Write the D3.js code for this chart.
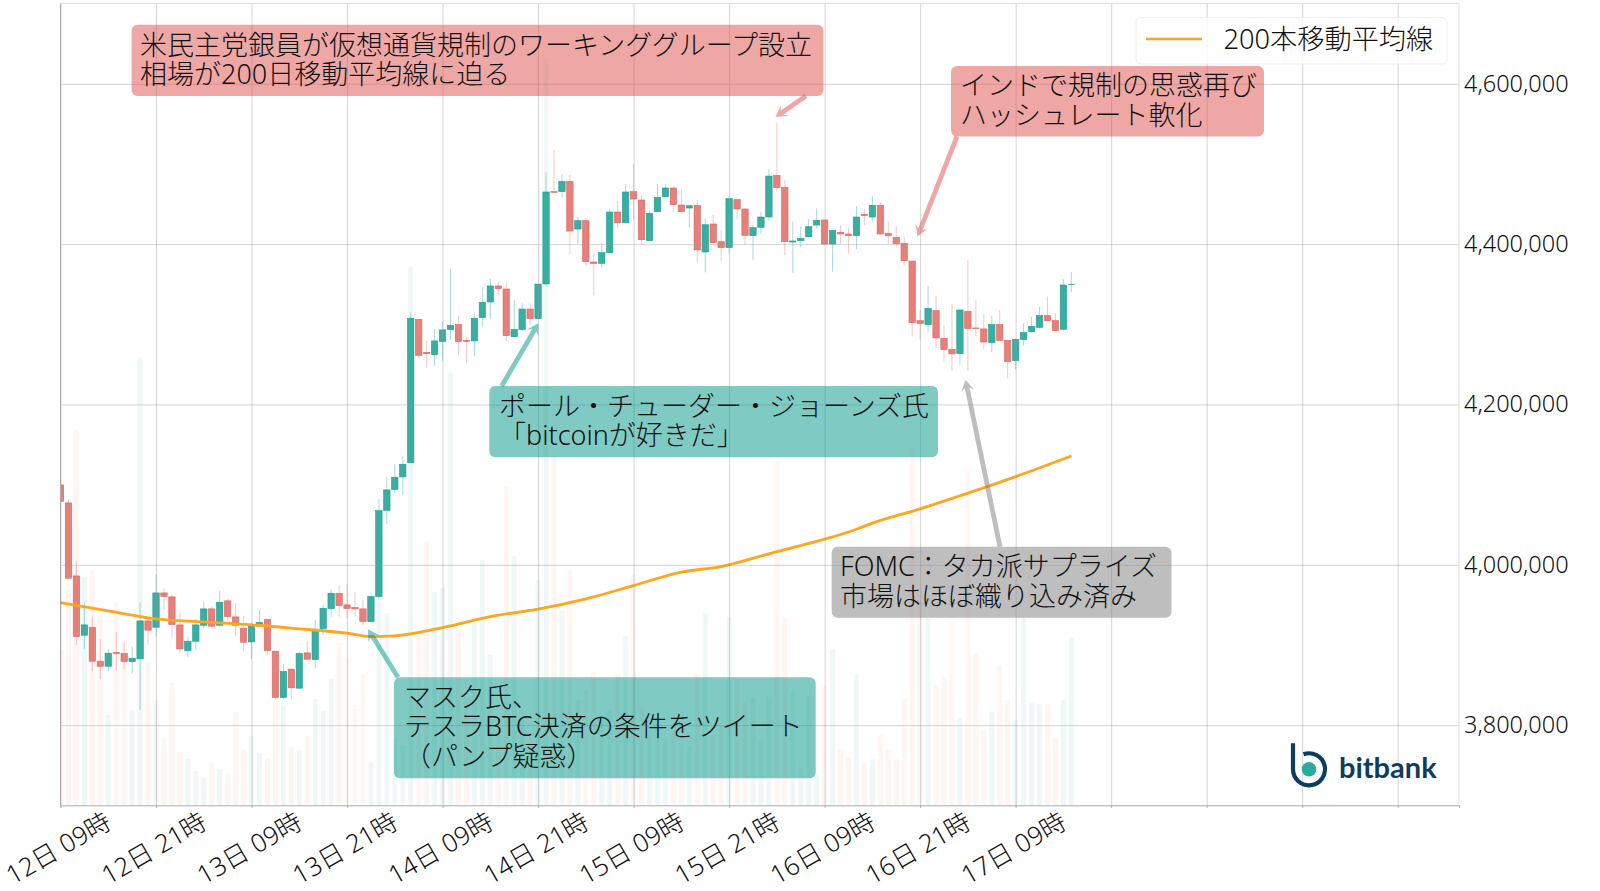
<!DOCTYPE html>
<html>
<head>
<meta charset="utf-8">
<script src="https://d3js.org/d3.v7.min.js"></script>
<style>
  html, body { margin: 0; padding: 0; background: #fff; }
  text { font-family: "Noto Sans", "Noto Sans CJK JP", sans-serif; fill: #111; }
</style>
</head>
<body>
<div id="my_dataviz"></div>
<script>

// hourly candles, yen, index 0 = 12日 09時
var opens = [
  4099600, 4077200, 3986100, 3912200, 3922100, 3879700, 3873500, 3890500, 3889300, 3879300, 3882700, 3930000,
  3922100, 3964900, 3960000, 3925000, 3893000, 3904700, 3924600, 3945000, 3924600, 3955000, 3935000, 3920900,
  3903800, 3923800, 3931700, 3892200, 3834400, 3869800, 3846100, 3890100, 3881800, 3920500, 3945400, 3964500,
  3950000, 3946700, 3945000, 3929200, 3960400, 4068000, 4093800, 4109600, 4127400, 4306200, 4265000, 4262200,
  4278400, 4293300, 4299600, 4280000, 4279200, 4308300, 4327800, 4347800, 4344000, 4284600, 4293300, 4319000,
  4307000, 4350300, 4465400, 4465400, 4478300, 4418800, 4429200, 4377700, 4376000, 4389300, 4440000, 4426700,
  4465400, 4455000, 4404300, 4440400, 4459100, 4470000, 4448800, 4445000, 4448300, 4390200, 4425100, 4403000,
  4395600, 4455400, 4443800, 4410500, 4420900, 4433800, 4485700, 4470400, 4402600, 4404300, 4409300, 4423800,
  4430100, 4400100, 4414700, 4412600, 4410500, 4437100, 4433800, 4448300, 4413400, 4408400, 4401000, 4378900,
  4304500, 4299600, 4317000, 4282500, 4268800, 4263400, 4316200, 4295400, 4294200, 4277100, 4299600, 4280000,
  4254700, 4280900, 4290800, 4296200, 4310800, 4304500, 4293800, 4349500
];
var highs = [
  4103000, 4081700, 4003200, 3953300, 3935400, 3907200, 3894700, 3915900, 3903400, 3898000, 3952900, 3935400,
  3988600, 3970800, 3962400, 3940400, 3910500, 3932100, 3953300, 3947900, 3967800, 3958300, 3952100, 3936300,
  3928000, 3943700, 3932500, 3892500, 3876000, 3870000, 3891800, 3905100, 3931300, 3950000, 3969500, 3974500,
  3976200, 3965800, 3956200, 3964500, 4082100, 4110000, 4125800, 4135800, 4314500, 4306500, 4279600, 4294200,
  4303300, 4369000, 4310800, 4284600, 4313700, 4346100, 4356900, 4354400, 4351900, 4330300, 4326200, 4326200,
  4350500, 4489500, 4517300, 4487000, 4486200, 4434200, 4433000, 4388500, 4401000, 4443400, 4453800, 4474900,
  4499500, 4461200, 4441700, 4474500, 4474900, 4470800, 4468300, 4448800, 4455000, 4432100, 4436300, 4417600,
  4458300, 4456200, 4444600, 4423800, 4440000, 4493200, 4551400, 4479900, 4428000, 4421700, 4431300, 4444600,
  4430900, 4417600, 4423800, 4419700, 4447500, 4443800, 4460000, 4452900, 4428000, 4422600, 4409300, 4379300,
  4317800, 4347800, 4336100, 4297900, 4325300, 4319100, 4380200, 4329900, 4312900, 4310400, 4317400, 4280000,
  4282500, 4301200, 4309500, 4322000, 4334500, 4313700, 4356100, 4365200
];
var lows = [
  4079000, 3983000, 3900100, 3894700, 3867300, 3857300, 3866900, 3868900, 3870200, 3863900, 3819100, 3900100,
  3910500, 3943700, 3909300, 3889700, 3885100, 3893000, 3920100, 3923000, 3923800, 3930400, 3910500, 3891800,
  3882200, 3923000, 3887600, 3831500, 3832400, 3832400, 3844800, 3881400, 3870600, 3912600, 3934200, 3935400,
  3933400, 3935400, 3925000, 3928000, 3955400, 4051000, 4089200, 4087200, 4126700, 4257600, 4245100, 4248000,
  4254700, 4280400, 4261700, 4252200, 4259700, 4296200, 4306200, 4336500, 4279600, 4283800, 4291700, 4298800,
  4306200, 4346900, 4464000, 4458300, 4387300, 4400100, 4372700, 4336100, 4369800, 4388500, 4419700, 4425900,
  4430900, 4400100, 4403500, 4440000, 4458300, 4439200, 4439200, 4420900, 4377700, 4364800, 4401000, 4379300,
  4388500, 4430900, 4398900, 4380200, 4412600, 4429200, 4465400, 4386400, 4364400, 4396000, 4408000, 4419200,
  4400100, 4365600, 4400100, 4388500, 4393500, 4423800, 4428000, 4411800, 4400100, 4396000, 4372700, 4284600,
  4280400, 4290800, 4269600, 4253400, 4242200, 4249300, 4242200, 4285400, 4268800, 4265500, 4279200, 4232200,
  4243900, 4273400, 4289600, 4295000, 4303700, 4290800, 4292000, 4340300
];
var closes = [
  4079200, 3983200, 3910500, 3925000, 3879700, 3873500, 3889700, 3889300, 3879300, 3883500, 3930000, 3918400,
  3964900, 3960400, 3925500, 3895100, 3904700, 3925000, 3945000, 3923400, 3953300, 3935400, 3924600, 3903400,
  3923800, 3928000, 3893000, 3834400, 3866900, 3846500, 3889300, 3882200, 3919600, 3945800, 3964500, 3949100,
  3945400, 3945000, 3929200, 3960400, 4067600, 4093400, 4109200, 4125400, 4307400, 4261300, 4263400, 4279200,
  4293000, 4298800, 4278400, 4278800, 4307400, 4327400, 4347800, 4344400, 4285800, 4293700, 4319000, 4307000,
  4350200, 4465000, 4464600, 4478300, 4416300, 4429200, 4378100, 4376000, 4389300, 4440000, 4426700, 4465000,
  4456200, 4405500, 4438400, 4458300, 4470000, 4449200, 4440400, 4447900, 4392700, 4424200, 4401800, 4395600,
  4456700, 4443800, 4410900, 4420500, 4433800, 4484900, 4470400, 4403000, 4403900, 4407200, 4421700, 4429600,
  4400100, 4416800, 4412600, 4410500, 4433800, 4435500, 4448300, 4412600, 4410500, 4400500, 4379300, 4302000,
  4301200, 4319900, 4282900, 4268400, 4263000, 4317800, 4294600, 4294600, 4277900, 4299600, 4280000, 4253400,
  4281300, 4289600, 4297500, 4310800, 4304500, 4292100, 4349000, 4350000
];
var volumes = [
  155, 215, 375, 228, 234, 189, 90, 202, 163, 95, 447, 142,
  105, 66, 122, 53, 46, 34, 27, 42, 36, 30, 93, 56,
  69, 52, 47, 102, 99, 58, 55, 69, 106, 94, 126, 162,
  146, 100, 131, 43, 203, 192, 66, 60, 538, 169, 263, 213,
  217, 432, 175, 105, 188, 245, 150, 75, 318, 249, 85, 65,
  225, 745, 349, 194, 234, 105, 115, 133, 85, 95, 130, 169,
  230, 98, 75, 85, 65, 80, 70, 60, 131, 192, 70, 80,
  188, 125, 103, 107, 65, 108, 342, 188, 113, 38, 110, 30,
  120, 156, 55, 48, 130, 42, 46, 70, 55, 46, 107, 355,
  205, 187, 120, 128, 182, 87, 334, 152, 76, 93, 140, 105,
  85, 188, 102, 101, 101, 67, 105, 167
];

// 200 period moving average, read every few candles
var maIndex = [0, 6, 12, 18, 24, 30, 36, 39, 42, 48, 54, 60, 66, 72, 78, 83, 90, 96, 100, 102, 108, 114, 120, 127];
var ma200 = [3952900, 3942500, 3932500, 3928800, 3925100, 3920100, 3914700, 3910500, 3911300, 3921700, 3935400, 3944600,
  3957500, 3974100, 3990800, 3997800, 4016500, 4031900, 4044400, 4051900, 4069700, 4089300, 4110000, 4135800];

var yTicks = [3800000, 4000000, 4200000, 4400000, 4600000];
var xTicks = [0, 12, 24, 36, 48, 60, 72, 84, 96, 108, 120, 132, 144, 156, 168];
var xTickLabels = ["12日 09時", "12日 21時", "13日 09時", "13日 21時", "14日 09時", "14日 21時", "15日 09時",
  "15日 21時", "16日 09時", "16日 21時", "17日 09時", "", "", "", ""];

var margin = {top: 3.6, right: 141, bottom: 85.7, left: 60.5},
    width = 1600 - margin.left - margin.right,
    height = 891 - margin.top - margin.bottom;

var candles = opens.map(function(o, i) {
  return {i: i, o: o, h: highs[i], l: lows[i], c: closes[i], v: volumes[i], up: closes[i] >= o};
});

var svg = d3.select("#my_dataviz")
  .append("svg")
    .attr("width", 1600)
    .attr("height", 891)
    .style("display", "block");

var g = svg.append("g")
    .attr("transform", "translate(" + margin.left + "," + margin.top + ")");

g.append("clipPath").attr("id", "plot")
  .append("rect").attr("width", width).attr("height", height);

var x = d3.scaleLinear().domain([0, 175.7]).range([0, width]);
var y = d3.scaleLinear().domain([3700000, 4700000]).range([height, 0]);
var yVol = d3.scaleLinear().domain([0, 800]).range([height, 0]);
var step = x(1) - x(0);

var plot = g.append("g").attr("clip-path", "url(#plot)");

// volume sits at the very back
plot.selectAll("rect.vol")
  .data(candles)
  .enter().append("rect")
    .attr("class", "vol")
    .attr("x", function(d) { return x(d.i) - step * 0.3; })
    .attr("width", step * 0.6)
    .attr("y", function(d) { return yVol(d.v); })
    .attr("height", function(d) { return height - yVol(d.v); })
    .attr("fill", function(d) { return d.up ? "#f0f8f7" : "#fff5f3"; });

// grid from the axes
var gridY = g.append("g")
    .call(d3.axisLeft(y).tickValues(yTicks).tickSize(-width).tickFormat(""));
gridY.select(".domain").remove();
gridY.selectAll("line").attr("stroke", "#999").attr("stroke-opacity", 0.42);

var gridX = g.append("g")
    .attr("transform", "translate(0," + height + ")")
    .call(d3.axisBottom(x).tickValues(xTicks).tickSize(-height).tickFormat(""));
gridX.select(".domain").remove();
gridX.selectAll("line").attr("stroke", "#999").attr("stroke-opacity", 0.42);

// frame
g.append("line").attr("x1", width).attr("x2", width).attr("y1", 0).attr("y2", height).attr("stroke", "#ddd");
g.append("line").attr("x1", 0).attr("x2", width).attr("y1", 0).attr("y2", 0).attr("stroke", "#ddd");
g.append("line").attr("x1", 0).attr("x2", 0).attr("y1", 0).attr("y2", height).attr("stroke", "#aaa");

var axisY = g.append("g")
    .attr("transform", "translate(" + width + ",0)")
    .call(d3.axisRight(y).tickValues(yTicks).tickSize(0).tickPadding(5).tickFormat(d3.format(",")));
axisY.select(".domain").remove();
axisY.selectAll("text").style("font-size", "23.5px").style("font-weight", 300);

var axisX = g.append("g")
    .attr("transform", "translate(0," + height + ")")
    .call(d3.axisBottom(x).tickValues(xTicks).tickSize(2.5).tickFormat(function(d, i) { return xTickLabels[i]; }));
axisX.select(".domain").attr("stroke", "#aaa");
axisX.selectAll("line").attr("stroke", "#aaa");
axisX.selectAll("text")
    .attr("text-anchor", "middle")
    .attr("y", 0).attr("dy", 0)
    .attr("transform", "translate(-3,42)rotate(-30)")
    .attr("dominant-baseline", "central")
    .style("font-size", "25.5px").style("font-weight", 300);

// wicks then bodies
plot.selectAll("line.wick")
  .data(candles)
  .enter().append("line")
    .attr("class", "wick")
    .attr("x1", function(d) { return x(d.i); })
    .attr("x2", function(d) { return x(d.i); })
    .attr("y1", function(d) { return y(d.h); })
    .attr("y2", function(d) { return y(d.l); })
    .attr("stroke", function(d) { return d.up ? "#26a69a" : "#e57373"; })
    .attr("stroke-opacity", 0.4)
    .attr("stroke-width", 1);

plot.selectAll("rect.body")
  .data(candles)
  .enter().append("rect")
    .attr("class", "body")
    .attr("x", function(d) { return x(d.i) - step * 0.4; })
    .attr("width", step * 0.8)
    .attr("y", function(d) { return y(Math.max(d.o, d.c)); })
    .attr("height", function(d) { return Math.abs(y(d.o) - y(d.c)); })
    .attr("fill", function(d) { return d.up ? "#3aaea1" : "#e6807a"; })
    .attr("stroke", function(d) { return d.up ? "#16a093" : "#e2605a"; })
    .attr("stroke-width", 0.6);

// moving average
var maLine = d3.line()
    .curve(d3.curveMonotoneX)
    .x(function(d) { return x(d); })
    .y(function(d, i) { return y(ma200[i]); });

plot.append("path")
    .datum(maIndex)
    .attr("d", maLine)
    .attr("fill", "none")
    .attr("stroke", "#ffa51f")
    .attr("stroke-width", 2.8);

// annotations, in page pixels like matplotlib's annotate box
var RED = "rgba(222,80,75,0.5)", TEAL = "rgba(0,150,136,0.5)", GRAY = "rgba(125,125,125,0.5)";

function arrowPath(x0, y0, x1, y1) {
  var a = Math.atan2(y1 - y0, x1 - x0), len = Math.hypot(x1 - x0, y1 - y0);
  function pt(along, off) {
    return [x0 + Math.cos(a) * along - Math.sin(a) * off, y0 + Math.sin(a) * along + Math.cos(a) * off];
  }
  return "M" + [pt(0, -2.4), pt(len - 8, -2.4), pt(len - 11, -6.5), pt(len, 0), pt(len - 11, 6.5), pt(len - 8, 2.4), pt(0, 2.4)].join("L") + "Z";
}

function note(lines, color, box, arrow, textX, textY) {
  svg.append("path").attr("d", arrowPath(arrow[0], arrow[1], arrow[2], arrow[3])).attr("fill", color);
  svg.append("rect")
    .attr("x", box[0]).attr("y", box[1]).attr("width", box[2] - box[0]).attr("height", box[3] - box[1])
    .attr("rx", 6).attr("fill", color);
  lines.forEach(function(t, i) {
    svg.append("text")
      .attr("x", textX).attr("y", textY + i * 29.6)
      .attr("dominant-baseline", "central")
      .style("font-size", "27px").style("font-weight", 300)
      .text(t);
  });
}

note(["米民主党銀員が仮想通貨規制のワーキンググループ設立", "相場が200日移動平均線に迫る"], RED,
  [131.6, 24.7, 823.5, 96], [806, 96, 775.5, 117], 140, 44);
note(["インドで規制の思惑再び", "ハッシュレート軟化"], RED,
  [951, 66, 1264, 136.5], [957, 136.5, 917.5, 236.5], 960, 84.5);
note(["ポール・チューダー・ジョーンズ氏", "「bitcoinが好きだ」"], TEAL,
  [489.3, 386, 938, 457.3], [501.7, 386, 538.3, 323.3], 499, 405);
note(["マスク氏、", "テスラBTC決済の条件をツイート", "（パンプ疑惑）"], TEAL,
  [394, 677.3, 815.7, 778.3], [398, 677.3, 368, 629.3], 404, 696);
note(["FOMC：タカ派サプライズ", "市場はほぼ織り込み済み"], GRAY,
  [831.7, 546.7, 1171.5, 617.7], [1000, 546.7, 965.5, 380], 840, 565.5);

// legend
svg.append("rect")
    .attr("x", 1136).attr("y", 17.5).attr("width", 311).attr("height", 46.5).attr("rx", 5)
    .attr("fill", "#fff").attr("fill-opacity", 0.8).attr("stroke", "#eee");
svg.append("line")
    .attr("x1", 1146).attr("x2", 1202).attr("y1", 39).attr("y2", 39)
    .attr("stroke", "#ffa51f").attr("stroke-width", 2.5);
svg.append("text")
    .attr("x", 1223.5).attr("y", 38.5)
    .attr("dominant-baseline", "central")
    .style("font-size", "27.2px").style("font-weight", 300)
    .text("200本移動平均線");

// bitbank mark
var ring = d3.path();
ring.moveTo(1293, 743.3);
ring.lineTo(1293, 769.3);
ring.arc(1309, 769.3, 16, Math.PI, -0.35 - Math.PI / 2 + 2 * Math.PI, true);
svg.append("path").attr("d", ring.toString()).attr("fill", "none").attr("stroke", "#0d3c61").attr("stroke-width", 4.2);
svg.append("circle").attr("cx", 1309).attr("cy", 769.3).attr("r", 7.3).attr("fill", "#2bab9c");
svg.append("text")
    .attr("x", 1339).attr("y", 778.3)
    .style("font-family", "Lato").style("font-weight", 700).style("font-size", "29px")
    .style("fill", "#0d3c61")
    .text("bitbank");

</script>
</body>
</html>
